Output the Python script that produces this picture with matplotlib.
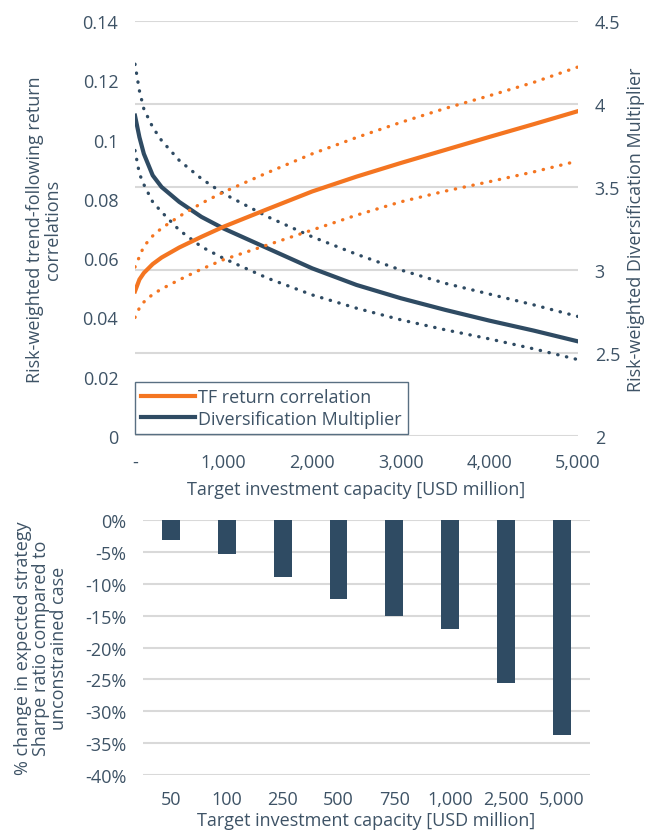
import numpy as np
import matplotlib.pyplot as plt
from matplotlib.ticker import FuncFormatter

plt.rcParams['font.family'] = ['Open Sans', 'DejaVu Sans']

# data
capacity = [0, 50, 100, 200, 300, 500, 750, 1000, 1500, 2000, 2500, 3000, 3500, 4000, 4500, 5000]
tf_corr = [0.0488, 0.0528, 0.055, 0.058, 0.0602, 0.0636, 0.0672, 0.0706, 0.0766, 0.0825,
           0.0875, 0.0921, 0.0965, 0.1009, 0.1052, 0.1096]
tf_corr_hi = [0.057, 0.0605, 0.064, 0.0675, 0.0701, 0.0741, 0.0785, 0.0823, 0.0889, 0.0952,
              0.1007, 0.1058, 0.1105, 0.1148, 0.1193, 0.1245]
tf_corr_lo = [0.040, 0.0432, 0.0452, 0.0478, 0.0496, 0.0527, 0.0563, 0.0595, 0.0645, 0.0695,
              0.0745, 0.0790, 0.0826, 0.0858, 0.0891, 0.0928]
div_mult = [3.93, 3.80, 3.70, 3.57, 3.50, 3.41, 3.32, 3.25, 3.13, 3.01,
            2.91, 2.83, 2.76, 2.695, 2.635, 2.57]
div_mult_hi = [4.24, 4.08, 3.97, 3.86, 3.78, 3.66, 3.55, 3.46, 3.32, 3.20,
               3.095, 3.00, 2.92, 2.855, 2.79, 2.72]
div_mult_lo = [3.72, 3.58, 3.515, 3.41, 3.35, 3.24, 3.14, 3.07, 2.95, 2.85,
               2.77, 2.70, 2.64, 2.585, 2.525, 2.46]

bar_labels = ['50', '100', '250', '500', '750', '1,000', '2,500', '5,000']
sharpe_change = [-3.1, -5.3, -8.9, -12.4, -15.0, -17.1, -25.6, -33.8]

orange = '#f47521'
navy = '#2f4b63'
txt = '#3e5366'
grid = '#d9d9d9'
fs = 13

fig = plt.figure(figsize=(6.49, 8.37), dpi=100)

# ---- top chart
ax = fig.add_axes([0.208, 0.4779, 0.6826, 0.4958])
ax2 = ax.twinx()
dot = (0, (0.1, 2.6))
ax.plot(capacity, tf_corr_hi, color=orange, lw=2.4, ls=dot, dash_capstyle='round')
ax.plot(capacity, tf_corr_lo, color=orange, lw=2.4, ls=dot, dash_capstyle='round')
ax2.plot(capacity, div_mult_hi, color=navy, lw=2.4, ls=dot, dash_capstyle='round')
ax2.plot(capacity, div_mult_lo, color=navy, lw=2.4, ls=dot, dash_capstyle='round')
l1, = ax.plot(capacity, tf_corr, color=orange, lw=3, label='TF return correlation')
l2, = ax2.plot(capacity, div_mult, color=navy, lw=3, label='Diversification Multiplier')
ax.set_zorder(ax2.get_zorder() + 1)
ax.patch.set_visible(False)

ax.set_xlim(0, 5000)
ax.set_ylim(0, 0.14)
ax2.set_ylim(2, 4.5)
ax.set_xticks(range(0, 5001, 1000))
ax.xaxis.set_major_formatter(FuncFormatter(lambda v, p: '-' if v == 0 else f'{v:,.0f}'))
ax.set_yticks(np.arange(0, 0.141, 0.02))
ax.set_yticklabels(['0', '0.02', '0.04', '0.06', '0.08', '0.1', '0.12', '0.14'])
ax2.set_yticks(np.arange(2, 4.51, 0.5))
ax2.set_yticklabels(['2', '2.5', '3', '3.5', '4', '4.5'])
ax2.yaxis.grid(True, color=grid, lw=1.5)
ax2.set_axisbelow(True)
for a in (ax, ax2):
    for s in a.spines.values():
        s.set_visible(False)
    a.tick_params(length=0, labelsize=fs, colors=txt, pad=12)
ax.tick_params(axis='x', pad=12)
ax.set_xlabel('Target investment capacity [USD million]', fontsize=fs, color=txt, labelpad=7)
ax.set_ylabel('Risk-weighted trend-following return\ncorrelations', fontsize=fs, color=txt,
              labelpad=15, linespacing=1.0)
ax2.set_ylabel('Risk-weighted Diversification Multiplier', fontsize=fs, color=txt, labelpad=5)
leg = ax.legend(handles=[l1, l2], loc='lower left', bbox_to_anchor=(0.0, 0.005),
                fontsize=fs, frameon=True, fancybox=False, handlelength=3.0,
                handletextpad=0.15, labelspacing=0.2, borderpad=0.35, borderaxespad=0.0,
                labelcolor=txt)
leg.get_frame().set_edgecolor(navy)
leg.get_frame().set_linewidth(1.0)

# ---- bottom chart
bx = fig.add_axes([0.2203, 0.0729, 0.6887, 0.3046])
pos = np.arange(len(bar_labels))
bx.bar(pos, sharpe_change, width=0.32, color=navy, zorder=3)
bx.set_xlim(-0.5, len(bar_labels) - 0.5)
bx.set_ylim(-40, 0)
bx.set_yticks(range(-40, 1, 5))
bx.yaxis.set_major_formatter(FuncFormatter(lambda v, p: f'{v:.0f}%'))
bx.set_xticks(pos)
bx.set_xticklabels(bar_labels)
bx.yaxis.grid(True, color=grid, lw=1.5)
bx.set_axisbelow(True)
for s in bx.spines.values():
    s.set_visible(False)
bx.tick_params(length=0, labelsize=fs, colors=txt, pad=12)
bx.tick_params(axis='x', pad=11)
bx.set_xlabel('Target investment capacity [USD million]', fontsize=fs, color=txt, labelpad=2)
bx.set_ylabel('% change in expected strategy\nSharpe ratio compared to\nunconstrained case',
              fontsize=fs, color=txt, labelpad=12, linespacing=1.0)

fig.savefig('out.png', dpi=100)
